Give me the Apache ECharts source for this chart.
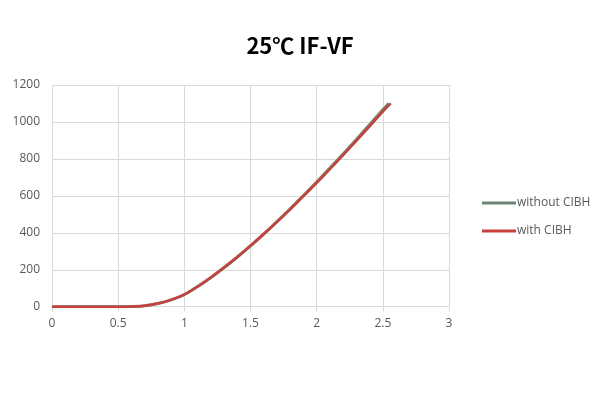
<!DOCTYPE html>
<html>
<head>
<meta charset="utf-8">
<script src="https://cdn.jsdelivr.net/npm/echarts@6/dist/echarts.min.js"></script>
<style>html,body{margin:0;padding:0;background:#fff}#c{width:600px;height:400px}</style>
</head>
<body>
<div id="c"></div>
<script>
const titleText = "25℃ IF-VF";
const seriesNames = ["without CIBH", "with CIBH"];
const vfWithout = [0,0.1,0.2,0.3,0.4,0.5,0.6,0.7,0.8,0.9,1.0,1.1,1.2,1.3,1.4,1.5,1.6,1.7,1.8,1.9,2.0,2.1,2.2,2.3,2.4,2.5,2.545];
const ifWithout = [0,0,0,0,0,0,1,5,17,37,66,109,158,212,269,330,394,461,530,602,675,750,827,905,985,1066,1100];
const vfWith = [0,0.1,0.2,0.3,0.4,0.5,0.6,0.7,0.8,0.9,1.0,1.1,1.2,1.3,1.4,1.5,1.6,1.7,1.8,1.9,2.0,2.1,2.2,2.3,2.4,2.5,2.56];
const ifWith = [0,0,0,0,0,0,1,5,17,37,65,108,157,211,268,328,392,458,527,598,670,744,820,898,976,1056,1100];
const xTicks = [0,0.5,1,1.5,2,2.5,3];
const yTicks = [0,200,400,600,800,1000,1200];

const pair = (xs, ys) => xs.map((x,i)=>[x, ys[i]]);
const chart = echarts.init(document.getElementById('c'));
chart.setOption({
  animation:false,
  backgroundColor:'#fff',
  title:{text:titleText,left:'center',top:30,textStyle:{fontFamily:'Noto Sans CJK SC',fontSize:22,fontWeight:'bold',color:'#000'}},
  grid:{left:52,right:151,top:85,bottom:93.3,containLabel:false},
  legend:{orient:'vertical',left:477,top:192,itemWidth:34,itemHeight:3,icon:'rect',itemGap:16,
    textStyle:{fontFamily:'Open Sans',fontSize:12,color:'#595959',padding:[0,0,0,-4]},
    data:seriesNames},
  xAxis:{type:'value',min:xTicks[0],max:xTicks[xTicks.length-1],interval:0.5,
    axisLine:{show:true,lineStyle:{color:'#d9d9d9'}},
    axisTick:{show:true,length:5,lineStyle:{color:'#d9d9d9'}},
    axisLabel:{color:'#595959',fontFamily:'Open Sans',fontSize:12,margin:11,formatter:v=>String(v)},
    splitLine:{show:true,lineStyle:{color:'#d9d9d9',width:1}}},
  yAxis:{type:'value',min:yTicks[0],max:yTicks[yTicks.length-1],interval:200,
    axisLine:{show:false},axisTick:{show:false},
    axisLabel:{color:'#595959',fontFamily:'Open Sans',fontSize:12,margin:12,formatter:v=>String(v)},
    splitLine:{show:true,lineStyle:{color:'#d9d9d9',width:1}}},
  series:[
    {name:seriesNames[0],type:'line',smooth:0.3,showSymbol:false,data:pair(vfWithout,ifWithout),
      lineStyle:{color:'#6b8576',width:3},itemStyle:{color:'#6b8576'}},
    {name:seriesNames[1],type:'line',smooth:0.3,showSymbol:false,data:pair(vfWith,ifWith),
      lineStyle:{color:'#c9413a',width:2.5},itemStyle:{color:'#c9413a'}}
  ]
});
</script>
</body>
</html>
